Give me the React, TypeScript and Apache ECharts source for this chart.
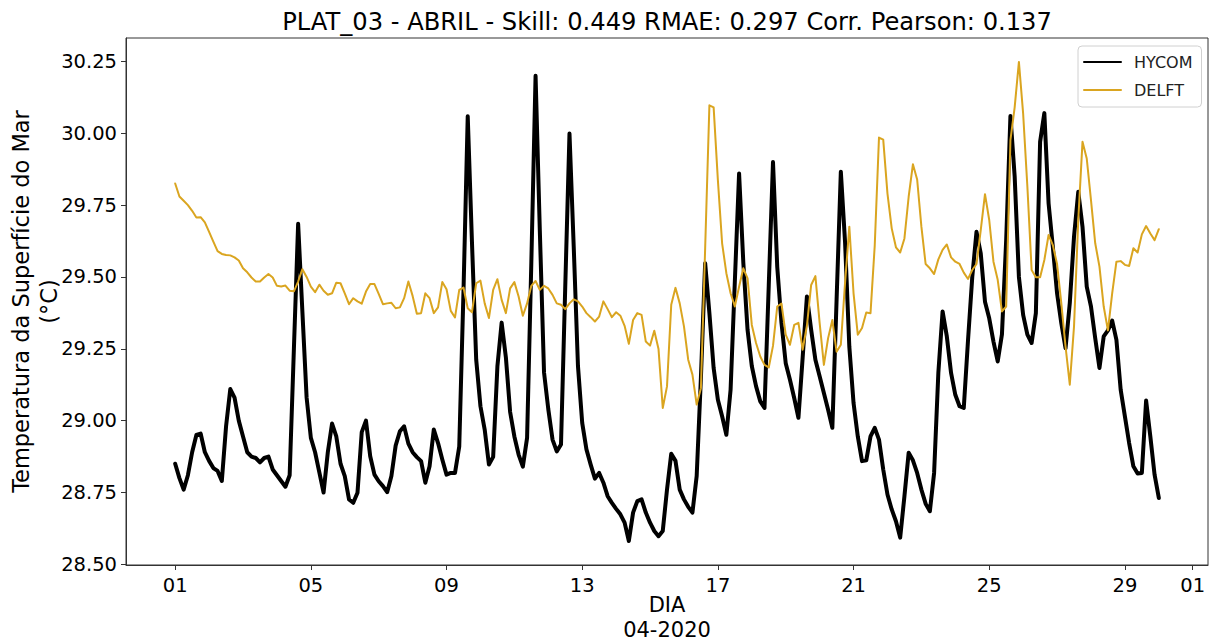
import React, { useEffect, useRef } from "react";
import * as echarts from "echarts";

const TITLE = "PLAT_03 - ABRIL - Skill: 0.449 RMAE: 0.297 Corr. Pearson: 0.137";
const START_UTC = Date.UTC(2020, 3, 1);
const STEP_DAYS = 3 / 24; // 3-hourly samples
const X_TICKS = [0, 4, 8, 12, 16, 20, 24, 28, 30];
const Y_TICKS = [28.5, 28.75, 29.0, 29.25, 29.5, 29.75, 30.0, 30.25];
const SERIES_NAMES = ["HYCOM", "DELFT"];

const HYCOM = [
  28.85, 28.8, 28.76, 28.81, 28.89, 28.95, 28.955, 28.89, 28.86, 28.835,
  28.825, 28.79, 28.98, 29.11, 29.08, 29.0, 28.945, 28.89, 28.875, 28.87,
  28.855, 28.87, 28.875, 28.83, 28.81, 28.79, 28.77, 28.81, 29.25, 29.685,
  29.38, 29.08, 28.94, 28.89, 28.82, 28.75, 28.89, 28.99, 28.945, 28.85,
  28.807, 28.726, 28.714, 28.749, 28.96, 29.0, 28.876, 28.812, 28.789, 28.772,
  28.751, 28.807, 28.913, 28.963, 28.98, 28.92, 28.89, 28.873, 28.859, 28.784,
  28.841, 28.969, 28.922, 28.865, 28.812, 28.818, 28.818, 28.91, 29.45, 30.059,
  29.62, 29.212, 29.05, 28.969, 28.847, 28.874, 29.189, 29.341, 29.22, 29.03,
  28.945, 28.882, 28.84, 28.94, 29.55, 30.2, 29.663, 29.167, 29.04, 28.934,
  28.893, 28.917, 29.466, 29.999, 29.605, 29.19, 28.992, 28.9, 28.847, 28.798,
  28.818, 28.784, 28.737, 28.714, 28.693, 28.674, 28.645, 28.581, 28.68, 28.72,
  28.726, 28.68, 28.645, 28.616, 28.598, 28.616, 28.76, 28.885, 28.86, 28.76,
  28.726, 28.7, 28.68, 28.807, 29.15, 29.548, 29.374, 29.183, 29.073, 29.015,
  28.951, 29.108, 29.484, 29.86, 29.55, 29.316, 29.19, 29.12, 29.067, 29.044,
  29.47, 29.9, 29.535, 29.34, 29.2, 29.142, 29.079, 29.01, 29.22, 29.432,
  29.316, 29.212, 29.154, 29.096, 29.038, 28.975, 29.42, 29.866, 29.62, 29.258,
  29.061, 28.945, 28.859, 28.862, 28.945, 28.975, 28.934, 28.83, 28.743, 28.691,
  28.65, 28.593, 28.737, 28.888, 28.862, 28.818, 28.76, 28.711, 28.685, 28.818,
  29.166, 29.38, 29.293, 29.166, 29.09, 29.05, 29.044, 29.28, 29.5, 29.657,
  29.582, 29.414, 29.356, 29.275, 29.206, 29.3, 29.628, 30.06, 29.85, 29.5,
  29.368, 29.299, 29.27, 29.374, 29.97, 30.07, 29.756, 29.605, 29.443, 29.339,
  29.252, 29.409, 29.64, 29.796, 29.675, 29.466, 29.397, 29.287, 29.183, 29.293,
  29.314, 29.348, 29.281, 29.108, 29.015, 28.922, 28.841, 28.816, 28.818, 29.07,
  28.945, 28.812, 28.731,
];

const DELFT = [
  29.825, 29.78, 29.765, 29.75, 29.73, 29.707, 29.708, 29.69, 29.657, 29.623,
  29.59, 29.58, 29.576, 29.575, 29.568, 29.557, 29.53, 29.516, 29.498, 29.484,
  29.484, 29.498, 29.51, 29.498, 29.469, 29.467, 29.47, 29.452, 29.45, 29.484,
  29.527, 29.5, 29.466, 29.447, 29.473, 29.452, 29.438, 29.443, 29.48, 29.478,
  29.443, 29.405, 29.426, 29.415, 29.407, 29.449, 29.475, 29.475, 29.441, 29.405,
  29.408, 29.41, 29.391, 29.394, 29.426, 29.484, 29.434, 29.372, 29.374, 29.443,
  29.426, 29.374, 29.394, 29.482, 29.457, 29.382, 29.359, 29.455, 29.463, 29.391,
  29.377, 29.478, 29.487, 29.408, 29.357, 29.455, 29.492, 29.42, 29.374, 29.46,
  29.482, 29.432, 29.365, 29.408, 29.469, 29.486, 29.455, 29.469, 29.46, 29.4375,
  29.408, 29.403, 29.388, 29.408, 29.422, 29.415, 29.397, 29.374, 29.36, 29.345,
  29.362, 29.415, 29.388, 29.36, 29.377, 29.365, 29.33, 29.267, 29.35, 29.374,
  29.368, 29.275, 29.261, 29.3125, 29.249, 29.044, 29.119, 29.403, 29.462, 29.408,
  29.328, 29.212, 29.16, 29.056, 29.113, 29.6, 30.097, 30.09, 29.837, 29.617,
  29.513, 29.443, 29.397, 29.466, 29.53, 29.495, 29.333, 29.27, 29.223, 29.194,
  29.185, 29.26, 29.397, 29.407, 29.299, 29.264, 29.333, 29.34, 29.247, 29.33,
  29.472, 29.503, 29.34, 29.194, 29.287, 29.35, 29.24, 29.264, 29.48, 29.675,
  29.443, 29.299, 29.322, 29.376, 29.374, 29.61, 29.985, 29.978, 29.79, 29.669,
  29.603, 29.585, 29.634, 29.779, 29.892, 29.839, 29.675, 29.545, 29.53, 29.51,
  29.561, 29.594, 29.613, 29.568, 29.553, 29.545, 29.515, 29.493, 29.524, 29.545,
  29.663, 29.788, 29.698, 29.553, 29.49, 29.38, 29.397, 29.976, 30.09, 30.248,
  30.068, 29.814, 29.524, 29.499, 29.499, 29.559, 29.646, 29.611, 29.545, 29.409,
  29.258, 29.125, 29.328, 29.698, 29.97, 29.912, 29.767, 29.617, 29.536, 29.397,
  29.314, 29.443, 29.553, 29.555, 29.542, 29.538, 29.6, 29.585, 29.648, 29.677,
  29.651, 29.628, 29.666,
];

const FONT = "DejaVu Sans";

function dayLabel(v: number): string {
  const d = new Date(START_UTC + Math.round(v * 86400000));
  return String(d.getUTCDate()).padStart(2, "0");
}

export default function App() {
  const ref = useRef<HTMLDivElement>(null);

  useEffect(() => {
    if (!ref.current) return;
    const chart = echarts.init(ref.current, undefined, { renderer: "svg" });
    const toPairs = (arr: number[]) => arr.map((v, i) => [i * STEP_DAYS, v]);
    const lastDay = (HYCOM.length - 1) * STEP_DAYS;
    const xPad = lastDay * 0.05;
    const allVals = HYCOM.concat(DELFT);
    const yLo = Math.min(...allVals);
    const yHi = Math.max(...allVals);
    const yPad = (yHi - yLo) * 0.05;

    chart.setOption({
      animation: false,
      backgroundColor: "#ffffff",
      textStyle: { fontFamily: FONT },
      grid: {
        left: 126,
        right: 1,
        top: 38,
        bottom: 76,
        containLabel: false,
        outerBoundsMode: "none",
        show: true,
        borderColor: "#333",
        borderWidth: 1,
      },
      graphic: [
        {
          type: "text",
          x: 667,
          y: 22,
          style: {
            text: TITLE,
            fontFamily: FONT,
            fontSize: 24.2,
            fill: "#000",
            align: "center",
            verticalAlign: "middle",
          },
        },
      ],
      legend: {
        data: SERIES_NAMES,
        orient: "vertical",
        left: 1078,
        top: 46,
        padding: [8, 9, 9, 5],
        itemWidth: 37,
        itemHeight: 14,
        itemGap: 12,
        backgroundColor: "#fff",
        borderColor: "#d0d0d0",
        borderWidth: 1,
        borderRadius: 4,
        itemStyle: { opacity: 0 },
        textStyle: { fontFamily: FONT, fontSize: 16, color: "#222", padding: [0, 0, 0, 8] },
      },
      xAxis: {
        type: "value",
        min: -xPad,
        max: lastDay + xPad,
        name: "DIA\n04-2020",
        nameLocation: "middle",
        nameGap: 27,
        nameMoveOverlap: false,
        nameTextStyle: { fontFamily: FONT, fontSize: 21, color: "#000", lineHeight: 25 },
        splitLine: { show: false },
        axisLine: { show: true, onZero: false, lineStyle: { color: "#333", width: 1 } },
        axisTick: { show: true, customValues: X_TICKS, length: 5, lineStyle: { color: "#333" } },
        axisLabel: {
          customValues: X_TICKS,
          formatter: (v: number) => dayLabel(v),
          fontFamily: FONT,
          fontSize: 19.5,
          color: "#000",
          margin: 10,
        },
      },
      yAxis: {
        type: "value",
        min: yLo - yPad,
        max: yHi + yPad,
        name: "Temperatura da Superfície do Mar\n(°C)",
        nameLocation: "middle",
        nameRotate: 90,
        nameGap: 63,
        nameMoveOverlap: false,
        nameTextStyle: { fontFamily: FONT, fontSize: 22.5, color: "#000", lineHeight: 28 },
        splitLine: { show: false },
        axisLine: { show: true, onZero: false, lineStyle: { color: "#333", width: 1 } },
        axisTick: { show: true, customValues: Y_TICKS, length: 5, lineStyle: { color: "#333" } },
        axisLabel: {
          customValues: Y_TICKS,
          formatter: (v: number) => v.toFixed(2),
          fontFamily: FONT,
          fontSize: 19.5,
          color: "#000",
          margin: 9,
        },
      },
      series: [
        {
          name: SERIES_NAMES[0],
          type: "line",
          data: toPairs(HYCOM),
          symbol: "none",
          z: 2,
          itemStyle: { color: "#000000" },
          lineStyle: { color: "#000000", width: 4, join: "round", cap: "round" },
        },
        {
          name: SERIES_NAMES[1],
          type: "line",
          data: toPairs(DELFT),
          symbol: "none",
          z: 3,
          itemStyle: { color: "#DAA520" },
          lineStyle: { color: "#DAA520", width: 2, join: "round", cap: "round" },
        },
      ],
    });

    return () => chart.dispose();
  }, []);

  return (
    <div
      ref={ref}
      style={{ position: "fixed", left: 0, top: 0, width: 1209, height: 641, background: "#fff" }}
    />
  );
}
